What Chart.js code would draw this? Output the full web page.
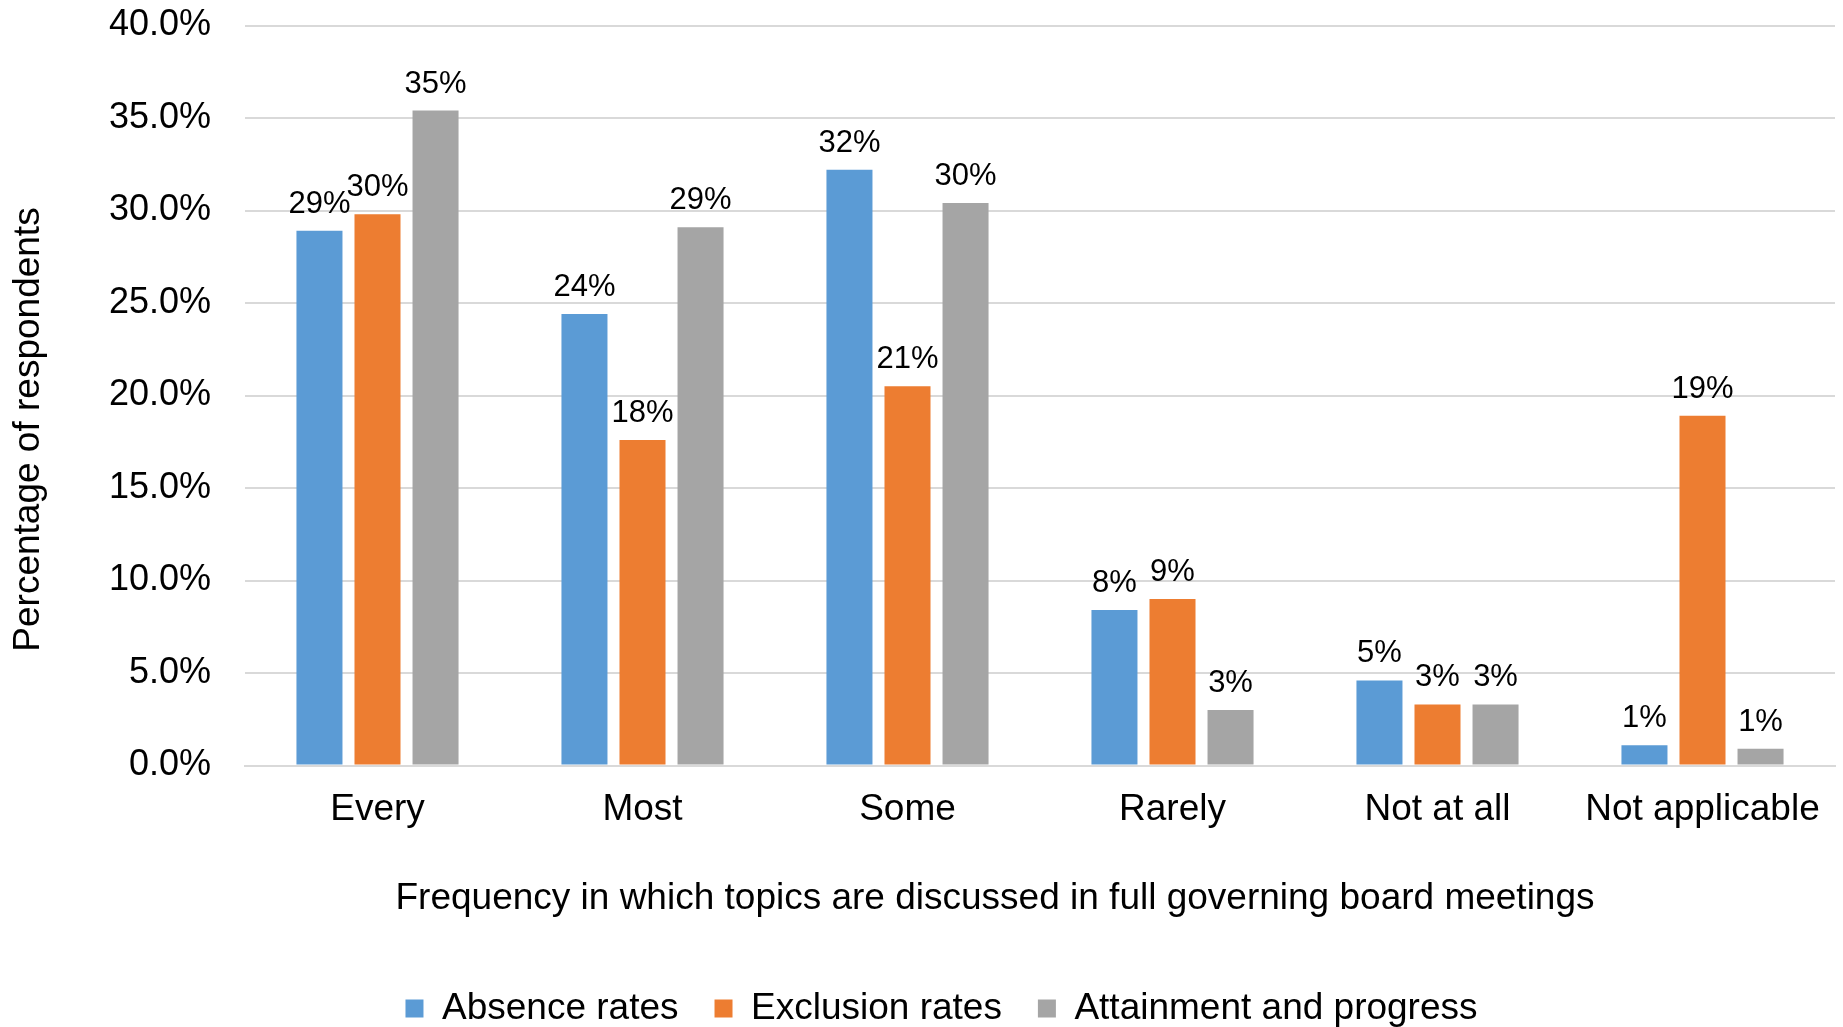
<!DOCTYPE html>
<html>
<head>
<meta charset="utf-8">
<script src="https://cdn.jsdelivr.net/npm/chart.js@4/dist/chart.umd.min.js"></script>
<style>
  html, body { margin: 0; padding: 0; background: #fff; }
  #wrap { width: 1843px; height: 1027px; position: relative; }
</style>
</head>
<body>
<div id="wrap"><canvas id="myChart"></canvas></div>
<script>
// data (percent of respondents)
var categories = ['Every', 'Most', 'Some', 'Rarely', 'Not at all', 'Not applicable'];
var absence = [28.9, 24.4, 32.2, 8.4, 4.6, 1.1];
var exclusion = [29.8, 17.6, 20.5, 9.0, 3.3, 18.9];
var attainment = [35.4, 29.1, 30.4, 3.0, 3.3, 0.9];
var seriesNames = ['Absence rates', 'Exclusion rates', 'Attainment and progress'];
var yTickLabels = ['0.0%', '5.0%', '10.0%', '15.0%', '20.0%', '25.0%', '30.0%', '35.0%', '40.0%'];
var xTitle = 'Frequency in which topics are discussed in full governing board meetings';
var yTitle = 'Percentage of respondents';

Chart.defaults.font.family = "'Liberation Sans', Arial, sans-serif";
Chart.defaults.color = '#000';

// value labels above the bars + axis titles
var extras = {
  id: 'extras',
  afterDatasetsDraw: function(chart) {
    var ctx = chart.ctx;
    ctx.save();
    ctx.font = "31px 'Liberation Sans', Arial, sans-serif";
    ctx.fillStyle = '#000';
    ctx.textAlign = 'center';
    ctx.textBaseline = 'alphabetic';
    chart.data.datasets.forEach(function(ds, i) {
      chart.getDatasetMeta(i).data.forEach(function(bar, j) {
        ctx.fillText(Math.round(ds.data[j]) + '%', bar.x, bar.y - 18);
      });
    });
    ctx.restore();
  },
  afterDraw: function(chart) {
    var ctx = chart.ctx, a = chart.chartArea;
    ctx.save();
    ctx.font = "37px 'Liberation Sans', Arial, sans-serif";
    ctx.fillStyle = '#000';
    ctx.textAlign = 'center';
    ctx.textBaseline = 'middle';
    ctx.fillText(xTitle, 995, a.bottom + 133);
    ctx.translate(29, (a.top + a.bottom) / 2 + 34);
    ctx.rotate(-Math.PI / 2);
    ctx.fillText(yTitle, 0, 0);
    ctx.restore();
  }
};

var ctx = document.getElementById('myChart');

new Chart(ctx, {
  type: 'bar',
  data: {
    labels: categories,
    datasets: [
      { label: seriesNames[0], data: absence, backgroundColor: '#5B9BD5' },
      { label: seriesNames[1], data: exclusion, backgroundColor: '#ED7D31' },
      { label: seriesNames[2], data: attainment, backgroundColor: '#A5A5A5' }
    ]
  },
  options: {
    responsive: true,
    maintainAspectRatio: false,
    animation: false,
    layout: { padding: { top: 25.5, right: 8, bottom: -10, left: 48 } },
    datasets: { bar: { categoryPercentage: 0.657, barPercentage: 0.793, borderWidth: 0 } },
    plugins: {
      legend: {
        position: 'bottom',
        labels: { boxWidth: 18, boxHeight: 18, padding: 36, font: { size: 37 }, color: '#000' }
      },
      tooltip: { enabled: false }
    },
    scales: {
      x: {
        grid: { display: false, drawTicks: false },
        border: { display: true, color: '#D9D9D9', width: 2 },
        ticks: { padding: 22, font: { size: 37 }, color: '#000', maxRotation: 0, autoSkip: false },
        afterFit: function(scale) { scale.height = 188.5; }
      },
      y: {
        min: 0,
        max: 40,
        grid: { color: '#D9D9D9', lineWidth: 2, drawTicks: true, tickLength: 34, tickColor: 'rgba(0,0,0,0)' },
        border: { display: false },
        ticks: {
          stepSize: 5,
          padding: 0,
          font: { size: 36 },
          color: '#000',
          callback: function(v, i) { return yTickLabels[i]; }
        },
        afterFit: function(scale) { scale.width = 197; }
      }
    }
  },
  plugins: [extras]
});
</script>
</body>
</html>
